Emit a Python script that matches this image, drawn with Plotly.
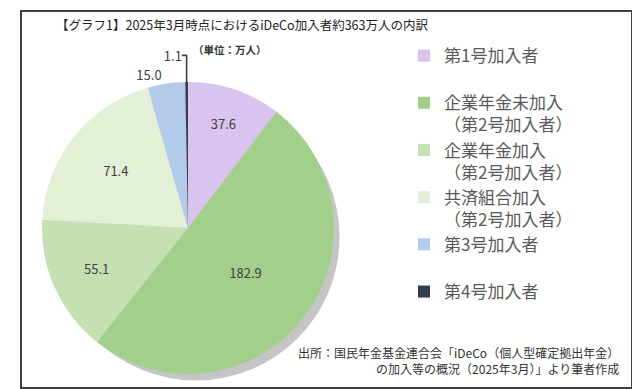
import plotly.graph_objects as go

labels = ["第1号加入者<br> ", "企業年金未加入<br>（第2号加入者）", "企業年金加入<br>（第2号加入者）",
          "共済組合加入<br>（第2号加入者）", "第3号加入者<br> ", "第4号加入者<br> "]
values = [37.6, 182.9, 55.1, 71.4, 15.0, 1.1]
colors = ["#D8C4EE", "#A2D08A", "#C5E0B3", "#E3F0D6", "#B3CBEB", "#333F50"]
text_pos = ["inside", "inside", "inside", "inside", "outside", "outside"]

W, H = 640, 389
def px(x): return x / W
def py(y): return 1 - y / H

fig = go.Figure()
fig.add_trace(go.Pie(
    labels=labels, values=values, sort=False, direction="clockwise", rotation=0,
    marker=dict(colors=colors, line=dict(width=0)),
    texttemplate="%{value:.1f}", textposition=text_pos,
    insidetextorientation="horizontal",
    textfont=dict(family="Noto Sans CJK JP", size=13, color="#404040"),
    domain=dict(x=[px(34), px(326)], y=[py(366), py(74)]),
    hoverinfo="skip",
))

# soft shadow behind the pie
cx, cy, r = 186.5, 226, 143.5
fig.update_layout(
    width=W, height=H, margin=dict(l=0, r=0, t=0, b=0),
    paper_bgcolor="white", plot_bgcolor="white",
    font=dict(family="Noto Sans CJK JP", color="#404040"),
    legend=dict(x=px(396), y=py(30), xanchor="left", yanchor="top",
                font=dict(size=17, color="#595959"), valign="top",
                itemwidth=30, tracegroupgap=0),
    shapes=[
        dict(type="circle", xref="paper", yref="paper", layer="below",
             x0=px(cx - r + 1.5), x1=px(cx + r + 1.5), y0=py(cy + r + 3), y1=py(cy - r + 3),
             line=dict(width=0), fillcolor="rgba(90,90,90,0.35)"),
        dict(type="rect", xref="paper", yref="paper", x0=px(13), x1=px(624), y0=py(380), y1=py(3),
             line=dict(color="#404040", width=2), fillcolor="rgba(0,0,0,0)"),
    ],
    annotations=[
        dict(text="【グラフ1】2025年3月時点におけるiDeCo加入者約363万人の内訳", x=px(46), y=py(17),
             xref="paper", yref="paper", xanchor="left", yanchor="middle", showarrow=False,
             font=dict(size=12.5, color="#222222", family="Noto Sans CJK JP")),
        dict(text="<b>（単位：万人）</b>", x=px(222), y=py(42), xref="paper", yref="paper",
             xanchor="center", yanchor="middle", showarrow=False,
             font=dict(size=10.5, color="#333333")),
        dict(text="出所：国民年金基金連合会「iDeCo（個人型確定拠出年金）<br>の加入等の概況（2025年3月）」より筆者作成",
             x=px(613), y=py(352), xref="paper", yref="paper", xanchor="right", yanchor="middle",
             align="right", showarrow=False, font=dict(size=12, color="#333333")),
    ],
)

fig.write_html("out.html")
